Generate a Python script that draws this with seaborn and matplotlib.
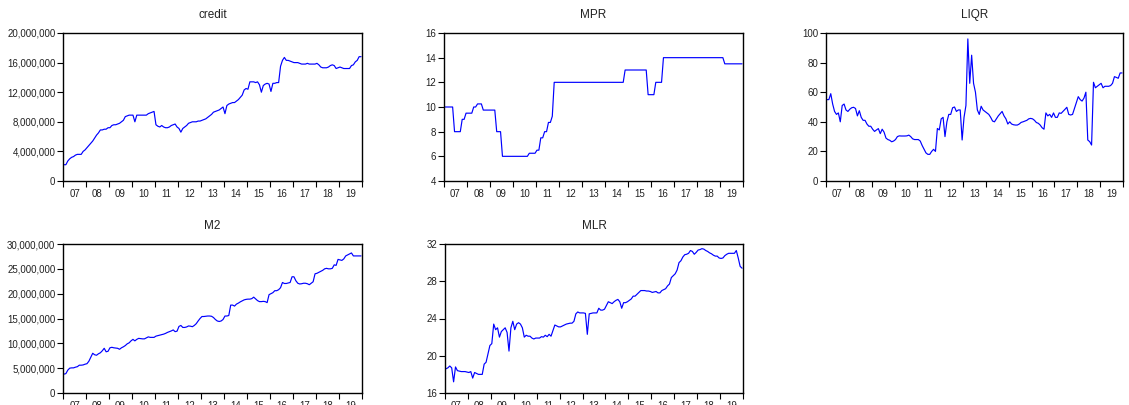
import numpy as np
import pandas as pd
import matplotlib
matplotlib.use("Agg")
import matplotlib.pyplot as plt
import seaborn as sns

# monthly sample 2007M01 - 2019M12
months = pd.date_range("2007-01-01", "2019-12-01", freq="MS")
year_labels = ["07", "08", "09", "10", "11", "12", "13", "14", "15", "16", "17", "18", "19"]

# credit, millions
credit_mn = [
    2.2, 2.2, 2.7, 3.0, 3.2, 3.3, 3.5, 3.6, 3.6, 3.6, 4.0, 4.2,
    4.5, 4.8, 5.1, 5.4, 5.8, 6.2, 6.5, 6.9, 6.9, 7.0, 7.0, 7.2,
    7.2, 7.5, 7.6, 7.6, 7.7, 7.8, 8.0, 8.2, 8.7, 8.8, 8.9, 8.9,
    8.9, 8.0, 8.9, 8.9, 8.9, 8.9, 8.9, 8.9, 9.1, 9.2, 9.3, 9.4,
    7.6, 7.4, 7.3, 7.5, 7.3, 7.2, 7.2, 7.3, 7.5, 7.6, 7.7, 7.3,
    7.1, 6.6, 7.1, 7.3, 7.5, 7.8, 7.9, 8.0, 8.0, 8.0, 8.1, 8.1,
    8.2, 8.3, 8.4, 8.6, 8.8, 9.0, 9.3, 9.4, 9.5, 9.6, 9.8, 10.0,
    9.1, 10.2, 10.4, 10.5, 10.6, 10.6, 10.8, 11.0, 11.3, 11.6, 12.3, 12.5,
    12.4, 13.4, 13.4, 13.4, 13.3, 13.4, 13.0, 12.0, 12.9, 13.1, 13.2, 13.1,
    12.1, 13.2, 13.2, 13.3, 13.3, 15.5, 16.3, 16.7, 16.3, 16.3, 16.2, 16.1,
    16.0, 16.0, 16.0, 15.9, 15.8, 15.8, 15.8, 15.9, 15.8, 15.8, 15.8, 15.8,
    15.9, 15.7, 15.4, 15.3, 15.3, 15.3, 15.4, 15.6, 15.7, 15.6, 15.2, 15.3,
    15.4, 15.3, 15.2, 15.2, 15.2, 15.2, 15.6, 15.7, 16.1, 16.3, 16.8, 16.8,
]

mpr = [
    10, 10, 10, 10, 10, 8, 8, 8, 8, 9, 9, 9.5,
    9.5, 9.5, 9.5, 10, 10, 10.25, 10.25, 10.25, 9.75, 9.75, 9.75, 9.75,
    9.75, 9.75, 9.75, 8, 8, 8, 6, 6, 6, 6, 6, 6,
    6, 6, 6, 6, 6, 6, 6, 6, 6.25, 6.25, 6.25, 6.25,
    6.5, 6.5, 7.5, 7.5, 8, 8, 8.75, 8.75, 9.25, 12, 12, 12,
    12, 12, 12, 12, 12, 12, 12, 12, 12, 12, 12, 12,
    12, 12, 12, 12, 12, 12, 12, 12, 12, 12, 12, 12,
    12, 12, 12, 12, 12, 12, 12, 12, 12, 12, 13, 13,
    13, 13, 13, 13, 13, 13, 13, 13, 13, 13, 11, 11,
    11, 11, 12, 12, 12, 12, 14, 14, 14, 14, 14, 14,
    14, 14, 14, 14, 14, 14, 14, 14, 14, 14, 14, 14,
    14, 14, 14, 14, 14, 14, 14, 14, 14, 14, 14, 14,
    14, 14, 13.5, 13.5, 13.5, 13.5, 13.5, 13.5, 13.5, 13.5, 13.5, 13.5,
]

liqr = [
    55, 55, 59, 52, 47, 45, 46, 40, 51, 52, 48, 47,
    48.5, 49.5, 49.8, 49, 44, 47.5, 43, 41, 41, 38.5, 37, 37,
    35, 33.5, 34.5, 35.4, 32, 35, 33, 29, 28, 27.5, 26.5, 27,
    28, 30, 30.5, 30.4, 30.4, 30.4, 30.5, 31, 30, 28.5, 28, 28,
    28, 27, 24, 21.5, 19, 18, 18, 20, 21.4, 20, 35.5, 34.5,
    42, 43, 30, 40, 45, 45, 49.5, 50, 47, 48, 48, 27.7,
    43, 51, 96, 66, 85, 66, 60, 48, 45, 50.5, 48, 47,
    46, 45, 43, 40.5, 40, 42, 44, 45.5, 47, 44, 42, 38.5,
    40, 38.5, 38, 37.8, 37.8, 38.5, 39.6, 40, 40.5, 41, 42, 42.3,
    42, 41, 39.5, 39, 37.8, 36, 35, 46, 44, 45, 43, 46,
    43, 43, 46, 45.7, 47, 48.4, 49.8, 45, 44.6, 45, 49, 53,
    57, 55, 54, 56, 60, 27.7, 26.6, 24.3, 66.7, 63, 64, 65,
    66, 63, 64, 64, 64, 64.5, 66, 70.5, 70, 69.4, 73, 73,
]

# M2, millions
m2_mn = [
    3.8, 3.9, 4.6, 5.0, 5.06, 5.06, 5.2, 5.3, 5.6, 5.6, 5.65, 5.8,
    5.9, 6.4, 7.2, 8.0, 7.7, 7.6, 7.9, 8.1, 8.5, 9.0, 8.3, 8.4,
    9.1, 9.2, 9.1, 9.05, 9.0, 8.8, 9.1, 9.3, 9.55, 9.9, 10.1, 10.5,
    10.8, 10.5, 10.8, 11.0, 10.95, 10.9, 10.9, 11.1, 11.3, 11.2, 11.2, 11.2,
    11.45, 11.55, 11.65, 11.75, 11.85, 12.0, 12.2, 12.35, 12.5, 12.7, 12.35, 12.45,
    13.4, 13.6, 13.2, 13.2, 13.3, 13.5, 13.45, 13.35, 13.6, 13.95, 14.5, 15.0,
    15.4, 15.4, 15.45, 15.5, 15.5, 15.45, 15.2, 14.8, 14.5, 14.4, 14.5, 14.8,
    15.5, 15.5, 15.6, 17.7, 17.7, 17.5, 17.9, 18.1, 18.35, 18.55, 18.75, 18.85,
    18.9, 18.9, 19.0, 19.3, 18.95, 18.6, 18.4, 18.4, 18.45, 18.4, 18.2, 19.8,
    20.0, 20.2, 20.6, 20.6, 20.8, 21.2, 22.25, 22.05, 22.05, 22.15, 22.25, 23.4,
    23.4, 22.6, 22.1, 21.95, 22.0, 22.1, 22.1, 22.0, 21.8, 22.1, 22.4, 24.0,
    24.1, 24.3, 24.5, 24.7, 25.0, 25.1, 25.0, 25.0, 25.1, 25.8, 25.7, 26.9,
    26.8, 26.7, 27.0, 27.6, 27.8, 28.0, 28.2, 27.6, 27.6, 27.6, 27.6, 27.6,
]

mlr = [
    18.6, 18.7, 18.9, 18.7, 17.2, 18.8, 18.4, 18.35, 18.3, 18.3, 18.3, 18.25,
    18.2, 18.3, 17.6, 18.2, 18.1, 18.0, 18.0, 18.0, 19.1, 19.3, 20.2, 21.1,
    21.3, 23.4, 22.8, 23.0, 22.0, 22.6, 22.8, 23.0, 22.5, 20.5, 23.0, 23.7,
    22.8, 23.4, 23.55, 23.4, 23.0, 22.0, 22.2, 22.1, 22.1, 21.9, 21.8, 21.9,
    21.9, 21.9, 22.05, 22.0, 22.2, 22.05, 22.3, 22.1, 22.7, 23.3, 23.2, 23.1,
    23.1, 23.2, 23.3, 23.4, 23.45, 23.5, 23.5, 23.7, 24.5, 24.7, 24.6, 24.6,
    24.6, 24.55, 22.3, 24.5, 24.55, 24.6, 24.6, 24.6, 25.1, 24.9, 24.9, 25.0,
    25.4, 25.8, 25.7, 25.6, 25.8, 25.95, 26.05, 25.8, 25.1, 25.7, 25.7, 25.8,
    25.95, 26.1, 26.4, 26.4, 26.6, 26.8, 27.0, 27.0, 27.0, 26.95, 26.95, 26.9,
    26.8, 26.85, 26.9, 26.75, 26.75, 27.0, 27.1, 27.2, 27.5, 27.7, 28.4, 28.6,
    28.8, 29.2, 30.0, 30.2, 30.6, 30.85, 30.9, 31.0, 31.3, 31.2, 30.9, 31.1,
    31.35, 31.4, 31.5, 31.45, 31.3, 31.2, 31.05, 30.95, 30.8, 30.7, 30.7, 30.5,
    30.45, 30.5, 30.75, 30.9, 31.0, 31.0, 31.0, 31.0, 31.3, 30.5, 29.6, 29.4,
]

# decimal year at mid-month
t = months.year + (months.month - 0.5) / 12
df = pd.DataFrame({
    "t": t,
    "credit": np.array(credit_mn) * 1e6,
    "MPR": mpr,
    "LIQR": liqr,
    "M2": np.array(m2_mn) * 1e6,
    "MLR": mlr,
})

sns.set_style("ticks")
plt.rcParams['font.family'] = ['Liberation Sans', 'DejaVu Sans']
txt = "#222222"

fig = plt.figure(figsize=(11.29, 4.05), dpi=100)
W, H = 1129, 405

# name, left px, right px, top px, bottom px, y ticks
panels = [
    ("credit", 63, 362, 33, 181, np.arange(0, 20000001, 4000000)),
    ("MPR", 444, 743, 33, 181, np.arange(4, 17, 2)),
    ("LIQR", 826, 1123, 33, 181, np.arange(0, 101, 20)),
    ("M2", 63, 362, 244, 393, np.arange(0, 30000001, 5000000)),
    ("MLR", 445, 743, 244, 393, np.arange(16, 33, 4)),
]

for name, l, r, top, bot, yt in panels:
    ax = fig.add_axes([l / W, (H - bot) / H, (r - l) / W, (bot - top) / H])
    sns.lineplot(data=df, x="t", y=name, ax=ax, color="#0000ff", linewidth=0.85)
    ax.set_xlim(2007, 2020)
    ax.set_ylim(yt[0], yt[-1])
    ax.set_yticks(yt)
    ax.set_yticklabels([f"{v:,.0f}" for v in yt])
    ax.set_xticks(range(2007, 2021))
    ax.set_xticklabels([])
    ax.set_xticks([y + 0.5 for y in range(2007, 2020)], minor=True)
    ax.set_xticklabels(year_labels, minor=True)
    ax.tick_params(which="major", length=4, width=0.8, color="black",
                   labelsize=7, labelcolor=txt, pad=1.5)
    ax.tick_params(axis="x", which="minor", length=0, labelsize=7,
                   labelcolor=txt, pad=5.5)
    for s in ax.spines.values():
        s.set_visible(True)
        s.set_linewidth(1.0)
        s.set_color("black")
    ax.set_xlabel("")
    ax.set_ylabel("")
    ax.set_title(name, fontsize=8.5, color=txt, pad=11)

fig.savefig("out.png", dpi=100)
